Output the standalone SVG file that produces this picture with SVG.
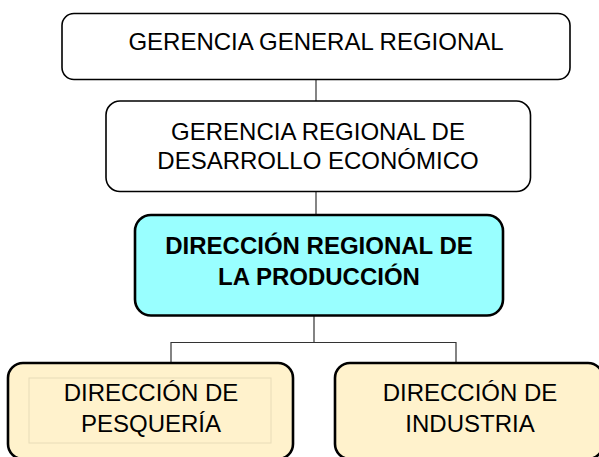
<svg xmlns="http://www.w3.org/2000/svg" width="599" height="457" viewBox="0 0 599 457">
<style>
.box{stroke:#000;}
.w{fill:#fff;stroke-width:1.6;}
.c{fill:#99ffff;stroke-width:2.6;}
.y{fill:#fff2cc;stroke-width:2.6;}
.t{font-family:"Liberation Sans",Arial,sans-serif;font-size:24px;fill:#000;text-anchor:middle;}
.b{font-weight:bold;font-size:24px;}
.conn{stroke:#333;stroke-width:1.2;fill:none;}
</style>
<rect width="599" height="457" fill="#fff"/>
<g id="connectors">
<path class="conn" d="M316,79 V101"/>
<path class="conn" d="M316,191 V215"/>
<path class="conn" d="M314,315 V342.5 M171,363 V342.5 H456 V363"/>
</g>
<g id="gerencia-general">
<rect class="box w" x="62" y="13.5" width="508" height="66" rx="12"/>
<text class="t" x="316" y="50">GERENCIA GENERAL REGIONAL</text>
</g>
<g id="gerencia-desarrollo">
<rect class="box w" x="106" y="101" width="424.5" height="90.5" rx="14"/>
<text class="t" x="318" y="139.5">GERENCIA REGIONAL DE</text>
<text class="t" x="318" y="169">DESARROLLO ECONÓMICO</text>
</g>
<g id="direccion-produccion">
<rect class="box c" x="135" y="215" width="368" height="100.5" rx="16"/>
<text class="t b" x="319" y="254">DIRECCIÓN REGIONAL DE</text>
<text class="t b" x="319" y="284.5">LA PRODUCCIÓN</text>
</g>
<g id="direccion-pesqueria">
<rect class="box y" x="8" y="363" width="285" height="96" rx="15"/>
<rect x="29" y="378" width="242" height="65" fill="none" stroke="#e8dcb8" stroke-width="1"/>
<text class="t" x="151" y="400.5">DIRECCIÓN DE</text>
<text class="t" x="151" y="431.5">PESQUERÍA</text>
</g>
<g id="direccion-industria">
<rect class="box y" x="335" y="363" width="268" height="96" rx="15"/>
<text class="t" x="470" y="401">DIRECCIÓN DE</text>
<text class="t" x="470" y="432">INDUSTRIA</text>
</g>
</svg>
